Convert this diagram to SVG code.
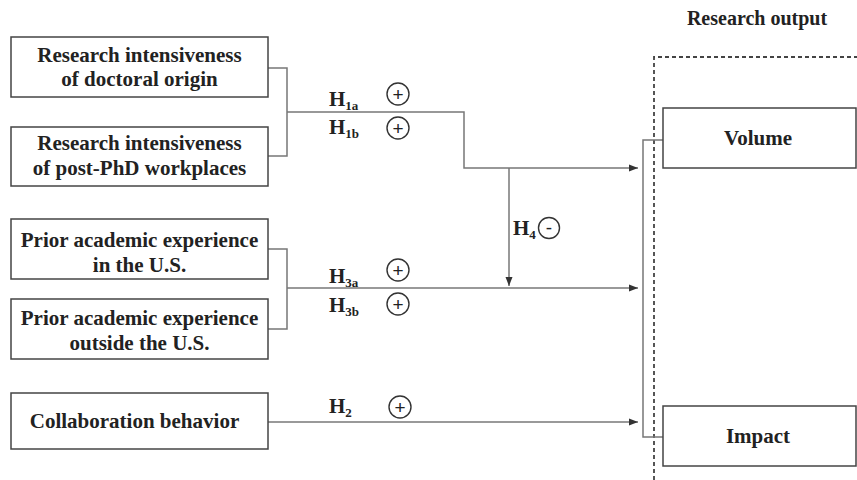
<svg xmlns="http://www.w3.org/2000/svg" width="857" height="480" viewBox="0 0 857 480">
<defs>
<marker id="arr" markerWidth="10" markerHeight="8" refX="9" refY="4" orient="auto" markerUnits="userSpaceOnUse">
<path d="M0,0.5 L9,4 L0,7.5 Z" fill="#333"/>
</marker>
<style>
.box{fill:#fff;stroke:#444;stroke-width:1.5}
.t{font-family:"Liberation Serif","Times New Roman",serif;font-weight:bold;font-size:21px;fill:#222;text-anchor:middle}
.h{font-family:"Liberation Serif","Times New Roman",serif;font-weight:bold;font-size:21px;fill:#222}
.sub{font-size:13px}
.ln{fill:none;stroke:#777;stroke-width:1.5}
.c{fill:none;stroke:#333;stroke-width:1.4}
.pm{font-family:"Liberation Sans",Arial,sans-serif;font-size:19px;fill:#222;text-anchor:middle}
</style>
</defs>
<rect width="857" height="480" fill="#fff"/>
<text class="t" x="757" y="25" style="font-size:20px">Research output</text>
<path d="M654,480 V57 H857" fill="none" stroke="#444" stroke-width="1.8" stroke-dasharray="4,3"/>
<g id="connectors">
<path class="ln" d="M268,68 H287 V156 H268"/>
<path class="ln" d="M287,112 H464 V168 H638" marker-end="url(#arr)"/>
<path class="ln" d="M268,249 H287 V329 H268"/>
<path class="ln" d="M287,288 H638" marker-end="url(#arr)"/>
<path class="ln" d="M509,168 V286" marker-end="url(#arr)"/>
<path class="ln" d="M268,422 H638" marker-end="url(#arr)"/>
<path class="ln" d="M663,140 H643 V437 H663"/>
</g>
<g id="labels">
<text class="h" x="329" y="106">H<tspan class="sub" dy="4">1a</tspan></text>
<circle class="c" cx="398" cy="94" r="11"/><text class="pm" x="398" y="100.5">+</text>
<text class="h" x="329" y="134">H<tspan class="sub" dy="4">1b</tspan></text>
<circle class="c" cx="398" cy="128" r="11"/><text class="pm" x="398" y="134.5">+</text>
<text class="h" x="329" y="283">H<tspan class="sub" dy="4">3a</tspan></text>
<circle class="c" cx="398" cy="270" r="11"/><text class="pm" x="398" y="276.5">+</text>
<text class="h" x="329" y="312">H<tspan class="sub" dy="4">3b</tspan></text>
<circle class="c" cx="398" cy="304" r="11"/><text class="pm" x="398" y="310.5">+</text>
<text class="h" x="329" y="413">H<tspan class="sub" dy="4">2</tspan></text>
<circle class="c" cx="400" cy="407" r="11"/><text class="pm" x="400" y="413.5">+</text>
<text class="h" x="513" y="235">H<tspan class="sub" dy="4">4</tspan></text>
<circle class="c" cx="549" cy="228" r="10.5"/><text class="pm" x="549" y="234">-</text>
</g>
<g id="n1"><rect class="box" x="11" y="37" width="257" height="60"/><text class="t" x="139.5" y="62">Research intensiveness</text><text class="t" x="139.5" y="86">of doctoral origin</text></g>
<g id="n2"><rect class="box" x="11" y="127" width="257" height="59"/><text class="t" x="139.5" y="150">Research intensiveness</text><text class="t" x="139.5" y="175">of post-PhD workplaces</text></g>
<g id="n3"><rect class="box" x="11" y="219" width="257" height="60"/><text class="t" x="139.5" y="247">Prior academic experience</text><text class="t" x="139.5" y="272">in the U.S.</text></g>
<g id="n4"><rect class="box" x="11" y="299" width="257" height="60"/><text class="t" x="139.5" y="325">Prior academic experience</text><text class="t" x="139.5" y="350">outside the U.S.</text></g>
<g id="n5"><rect class="box" x="11" y="393" width="257" height="56"/><text class="t" x="134.5" y="428">Collaboration behavior</text></g>
<g id="n6"><rect class="box" x="663" y="108" width="193" height="60"/><text class="t" x="758" y="145">Volume</text></g>
<g id="n7"><rect class="box" x="663" y="406" width="193" height="60"/><text class="t" x="758" y="443">Impact</text></g>
</svg>
